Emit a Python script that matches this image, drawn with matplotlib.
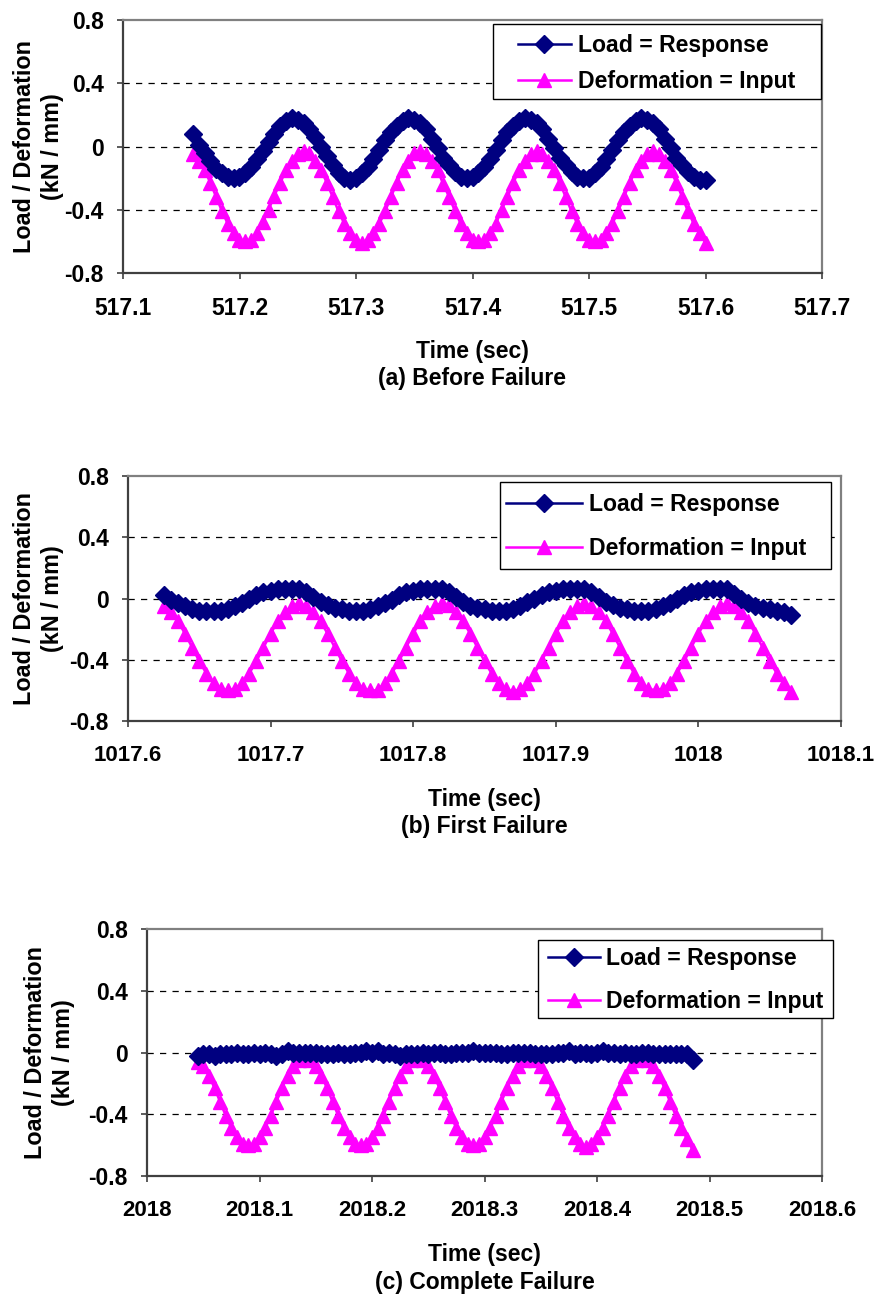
#!/usr/bin/env python3
import matplotlib
matplotlib.use('Agg')
import matplotlib.pyplot as plt
from matplotlib.patches import Rectangle
import numpy as np

plt.rcParams['font.family'] = ['Liberation Sans', 'DejaVu Sans']
plt.rcParams['font.weight'] = 'bold'

# 200 Hz samples, 89 per window
DT = 0.005
N = 89

# (a) before failure
a_t0 = 517.16
a_def = [-0.05, -0.09, -0.15, -0.23, -0.32, -0.41, -0.49, -0.55, -0.59, -0.60,
         -0.59, -0.55, -0.48, -0.40, -0.31, -0.23, -0.15, -0.09, -0.05, -0.03,
         -0.04, -0.09, -0.15, -0.23, -0.32, -0.41, -0.49, -0.55, -0.59, -0.61,
         -0.59, -0.55, -0.49, -0.41, -0.32, -0.23, -0.15, -0.09, -0.04, -0.03,
         -0.05, -0.09, -0.15, -0.24, -0.32, -0.41, -0.49, -0.55, -0.59, -0.60,
         -0.59, -0.55, -0.49, -0.40, -0.32, -0.23, -0.15, -0.09, -0.05, -0.03,
         -0.05, -0.09, -0.15, -0.23, -0.32, -0.41, -0.49, -0.55, -0.59, -0.60,
         -0.59, -0.55, -0.49, -0.41, -0.32, -0.23, -0.15, -0.09, -0.05, -0.03,
         -0.05, -0.09, -0.15, -0.23, -0.32, -0.41, -0.49, -0.55, -0.61]
a_load = [0.08, 0.01, -0.04, -0.09, -0.14, -0.17, -0.19, -0.20, -0.19, -0.17,
          -0.13, -0.08, -0.03, 0.03, 0.08, 0.13, 0.16, 0.18, 0.17, 0.15,
          0.11, 0.06, 0.00, -0.06, -0.12, -0.17, -0.20, -0.21, -0.20, -0.17,
          -0.13, -0.08, -0.02, 0.04, 0.09, 0.13, 0.16, 0.18, 0.17, 0.15,
          0.11, 0.05, -0.01, -0.07, -0.12, -0.16, -0.19, -0.20, -0.19, -0.17,
          -0.13, -0.08, -0.02, 0.04, 0.09, 0.13, 0.16, 0.18, 0.17, 0.15,
          0.11, 0.05, -0.01, -0.07, -0.12, -0.16, -0.19, -0.20, -0.20, -0.17,
          -0.13, -0.08, -0.02, 0.04, 0.09, 0.13, 0.16, 0.18, 0.17, 0.15,
          0.11, 0.05, -0.01, -0.07, -0.12, -0.16, -0.19, -0.21, -0.21]

# (b) first failure
b_t0 = 1017.625
b_def = [-0.05, -0.09, -0.15, -0.23, -0.32, -0.41, -0.49, -0.55, -0.59, -0.60,
         -0.59, -0.55, -0.49, -0.41, -0.32, -0.23, -0.15, -0.09, -0.05, -0.03,
         -0.05, -0.09, -0.15, -0.23, -0.32, -0.41, -0.49, -0.55, -0.59, -0.60,
         -0.60, -0.55, -0.49, -0.41, -0.32, -0.23, -0.15, -0.09, -0.05, -0.03,
         -0.04, -0.09, -0.15, -0.23, -0.32, -0.41, -0.49, -0.55, -0.59, -0.61,
         -0.59, -0.55, -0.49, -0.41, -0.32, -0.23, -0.15, -0.09, -0.05, -0.03,
         -0.05, -0.09, -0.15, -0.23, -0.32, -0.41, -0.49, -0.55, -0.59, -0.60,
         -0.59, -0.55, -0.49, -0.41, -0.32, -0.23, -0.15, -0.09, -0.05, -0.03,
         -0.05, -0.09, -0.15, -0.23, -0.32, -0.41, -0.49, -0.55, -0.61]
b_load = [0.02, -0.01, -0.03, -0.05, -0.07, -0.08, -0.08, -0.08, -0.08, -0.07,
          -0.05, -0.03, 0.00, 0.02, 0.04, 0.05, 0.06, 0.06, 0.06, 0.06,
          0.04, 0.01, -0.02, -0.04, -0.06, -0.07, -0.08, -0.08, -0.08, -0.07,
          -0.05, -0.03, -0.01, 0.02, 0.04, 0.05, 0.06, 0.06, 0.06, 0.06,
          0.04, 0.01, -0.02, -0.05, -0.06, -0.07, -0.08, -0.08, -0.08, -0.07,
          -0.05, -0.02, 0.00, 0.02, 0.04, 0.05, 0.06, 0.06, 0.06, 0.06,
          0.04, 0.01, -0.02, -0.04, -0.06, -0.07, -0.08, -0.08, -0.08, -0.07,
          -0.05, -0.03, 0.00, 0.02, 0.04, 0.05, 0.06, 0.06, 0.06, 0.06,
          0.03, 0.00, -0.03, -0.05, -0.06, -0.07, -0.08, -0.09, -0.11]

# (c) complete failure
c_t0 = 2018.045
c_def = [-0.06, -0.09, -0.15, -0.23, -0.32, -0.41, -0.49, -0.55, -0.59, -0.60,
         -0.59, -0.55, -0.49, -0.41, -0.32, -0.23, -0.15, -0.09, -0.05, -0.03,
         -0.05, -0.09, -0.15, -0.23, -0.32, -0.41, -0.49, -0.55, -0.59, -0.60,
         -0.59, -0.55, -0.49, -0.41, -0.32, -0.23, -0.15, -0.09, -0.05, -0.03,
         -0.05, -0.09, -0.15, -0.23, -0.32, -0.41, -0.49, -0.55, -0.59, -0.60,
         -0.59, -0.55, -0.49, -0.41, -0.32, -0.23, -0.15, -0.09, -0.05, -0.03,
         -0.05, -0.09, -0.15, -0.23, -0.32, -0.41, -0.49, -0.55, -0.59, -0.61,
         -0.59, -0.55, -0.49, -0.41, -0.32, -0.23, -0.15, -0.09, -0.05, -0.03,
         -0.05, -0.09, -0.15, -0.23, -0.32, -0.41, -0.49, -0.56, -0.63]
c_load = [-0.02, -0.01, -0.01, -0.02, -0.01, -0.01, -0.01, 0.00, -0.01, -0.01,
          0.00, -0.01, 0.00, -0.01, -0.02, -0.01, 0.01, 0.00, 0.00, 0.00,
          0.00, 0.00, -0.01, -0.01, -0.01, 0.00, -0.01, -0.01, 0.00, 0.00,
          0.01, 0.00, 0.01, -0.01, 0.00, -0.01, -0.02, -0.01, -0.01, -0.01,
          0.00, -0.01, 0.00, 0.00, -0.01, -0.01, 0.00, 0.00, 0.00, 0.01,
          0.00, 0.00, 0.00, 0.00, -0.01, -0.01, 0.00, 0.00, 0.00, 0.00,
          -0.01, -0.01, -0.01, -0.01, 0.00, 0.00, 0.01, -0.01, 0.00, 0.00,
          -0.01, 0.00, 0.01, 0.00, 0.00, -0.01, 0.00, -0.01, -0.01, 0.00,
          0.00, -0.01, -0.01, -0.01, -0.01, -0.01, -0.01, -0.01, -0.05]

y_ticks = [-0.8, -0.4, 0, 0.4, 0.8]
y_ticklabels = ['-0.8', '-0.4', '0', '0.4', '0.8']

W, H = 878, 1298
FS = 16.6
FS_PX = FS * 100 / 72

# pixel layout per panel:
#   box  = axes left, top, right, bottom
#   frame = legend frame left, top, right, bottom
#   line = legend handle start/end x, text start x, first/second row centre y
panels = [
    dict(t0=a_t0, d=a_def, l=a_load, xlim=(517.1, 517.7), box=(123, 20, 822, 273),
         frame=(493, 24, 821, 99), line=(518, 571, 578, 45, 81), ylab=64,
         xfs=16.5, title='(a) Before Failure'),
    dict(t0=b_t0, d=b_def, l=b_load, xlim=(1017.6, 1018.1), box=(128, 476, 841, 721),
         frame=(500, 482, 831, 569), line=(506, 582, 589, 504, 548), ylab=64,
         xfs=16, title='(b) First Failure'),
    dict(t0=c_t0, d=c_def, l=c_load, xlim=(2018.0, 2018.6), box=(147, 929, 822, 1176),
         frame=(538, 940, 833, 1018), line=(548, 600, 606, 958, 1001), ylab=75,
         xfs=16, title='(c) Complete Failure'),
]

fig = plt.figure(figsize=(W / 100, H / 100), dpi=100)

for p in panels:
    l, t, r, b = p['box']
    ax = fig.add_axes([l / W, 1 - b / H, (r - l) / W, (b - t) / H])
    tt = p['t0'] + DT * np.arange(N)

    ax.plot(tt, p['l'], color='#000080', lw=1.8, marker='D', ms=8.8,
            label='Load = Response', zorder=3)
    ax.plot(tt, p['d'], color='#FF00FF', lw=1.8, marker='^', ms=10.5,
            label='Deformation = Input', zorder=2)

    ax.set_xlim(*p['xlim'])
    ax.set_ylim(-0.8, 0.8)
    xt = np.round(np.arange(p['xlim'][0], p['xlim'][1] + 0.05, 0.1), 1)
    ax.set_xticks(xt)
    ax.set_xticklabels(['%g' % v for v in xt])
    ax.set_yticks(y_ticks)
    ax.set_yticklabels(y_ticklabels)
    ax.tick_params(direction='out', length=4, width=1.2, color='#404040')
    ax.tick_params(axis='x', pad=13, labelsize=p['xfs'])
    ax.tick_params(axis='y', pad=10, labelsize=16.5)

    for yv in (-0.4, 0, 0.4):
        ax.axhline(yv, color='black', lw=0.9, ls=(0, (5, 5)), zorder=1)

    ax.spines['left'].set_color('#404040')
    ax.spines['bottom'].set_color('#404040')
    ax.spines['top'].set_color('#808080')
    ax.spines['right'].set_color('#808080')
    for s in ax.spines.values():
        s.set_linewidth(1.6)

    hpx = b - t
    wpx = r - l
    ax.set_xlabel('Time (sec)\n' + p['title'], fontsize=16.5, fontweight='bold',
                  linespacing=1.25)
    ax.xaxis.set_label_coords(0.5, -67 / hpx)
    ax.set_ylabel('Load / Deformation\n(kN / mm)', fontsize=16.8,
                  fontweight='bold', linespacing=1.28)
    ax.yaxis.set_label_coords((p['ylab'] - l) / wpx, 0.5)

    # legend frame, drawn separately so its padding can be set in pixels
    fl, ft, fr, fb = p['frame']
    ax.add_patch(Rectangle((fl / W, 1 - fb / H), (fr - fl) / W, (fb - ft) / H,
                           transform=fig.transFigure, facecolor='white',
                           edgecolor='black', lw=1.0, clip_on=False, zorder=4))

    x0, x1, xtxt, r1, r2 = p['line']
    text_h = 0.98 * FS_PX
    leg = ax.legend(loc='upper left',
                    bbox_to_anchor=(x0 / W, 1 - (r1 - text_h / 2) / H),
                    bbox_transform=fig.transFigure, frameon=False,
                    borderpad=0, borderaxespad=0, fontsize=FS,
                    handlelength=(x1 - x0) / FS_PX,
                    handletextpad=(xtxt - x1) / FS_PX,
                    labelspacing=(r2 - r1 - text_h) / FS_PX)
    leg.set_zorder(5)

plt.savefig('out.png', dpi=100)
